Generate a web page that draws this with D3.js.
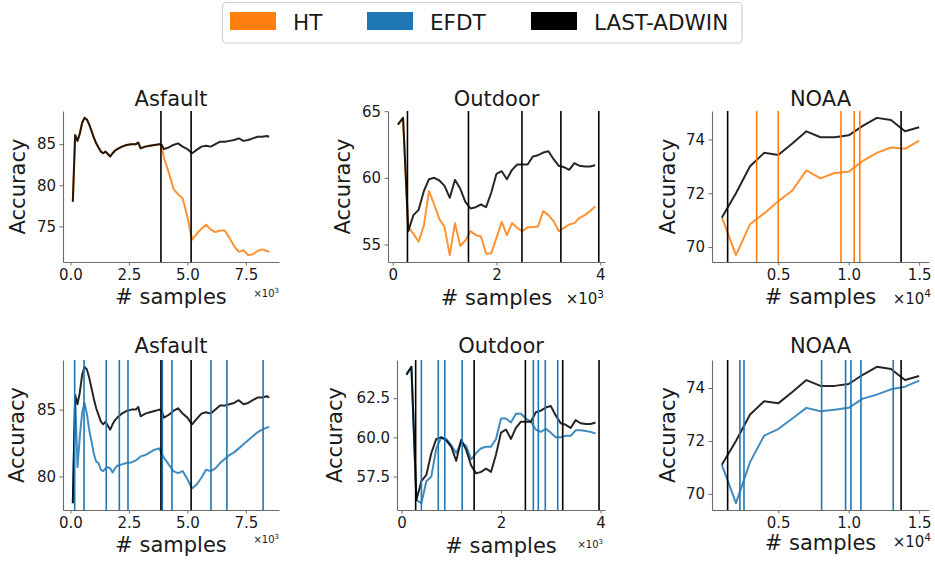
<!DOCTYPE html>
<html>
<head>
<meta charset="utf-8">
<script src="https://cdn.jsdelivr.net/npm/d3@7"></script>
<style>
  body { margin: 0; background: #fff; }
  svg { display: block; font-family: "DejaVu Sans", sans-serif; }
</style>
</head>
<body>
<svg id="chart" width="935" height="563"></svg>
<script>
// ---- legend ----
const seriesNames = ["HT", "EFDT", "LAST-ADWIN"];
const seriesColors = ["#ff7f0e", "#1f77b4", "#000000"];

// ---- Asfault ----
const asfaultSamples = [100, 200, 300, 400, 500, 600, 700, 800, 900, 1000,
  1100, 1200, 1300, 1400, 1500, 1600, 1700, 1800, 1900, 2000,
  2200, 2400, 2600, 2800, 2900, 3000,
  3200, 3400, 3600, 3800, 3900,
  4000, 4200, 4400, 4600, 4800, 5000, 5200, 5400, 5600, 5800, 6000, 6200,
  6400, 6600, 6800, 7000, 7200, 7400, 7600, 7800, 8000, 8200, 8400, 8500];
const asfaultADWIN = [78.0, 86.1, 85.4, 86.3, 87.6, 88.2, 88.0, 87.4, 86.6, 85.8,
  85.1, 84.6, 84.1, 83.9, 84.1, 83.8, 83.5, 83.9, 84.2, 84.4,
  84.7, 84.9, 85.0, 85.0, 85.2, 84.5,
  84.7, 84.8, 84.9, 85.0, 84.9,
  84.4, 84.6, 84.9, 85.1, 84.7, 84.4, 83.9, 84.3, 84.7, 84.8, 84.7, 85.0,
  85.3, 85.3, 85.4, 85.5, 85.7, 85.4, 85.5, 85.7, 85.9, 85.9, 86.0, 85.9];
const asfaultHT = [78.0, 86.1, 85.4, 86.3, 87.6, 88.2, 88.0, 87.4, 86.6, 85.8,
  85.1, 84.6, 84.1, 83.9, 84.1, 83.8, 83.5, 83.9, 84.2, 84.4,
  84.7, 84.9, 85.0, 85.0, 85.2, 84.5,
  84.7, 84.8, 84.9, 85.0, 84.9,
  83.3, 81.6, 79.6, 78.9, 78.4, 76.2, 73.4, 74.1, 74.7, 75.2, 74.6, 74.3,
  74.5, 74.5, 73.6, 72.6, 71.9, 72.1, 71.5, 71.6, 72.0, 72.2, 72.0, 71.9];
const asfaultEFDT = [78.0, 85.9, 80.7, 83.0, 84.8, 85.5, 84.7, 83.5, 82.6, 81.7,
  81.1, 81.0, 80.5, 80.4, 80.6, 80.7, 80.6, 80.3, 80.6, 80.8,
  80.9, 81.0, 81.05, 81.2, 81.35, 81.5,
  81.6, 81.8, 82.0, 82.1, 81.7,
  81.4, 80.9, 80.4, 80.25, 80.4, 79.8, 79.1, 79.4, 79.9, 80.5, 80.4, 80.6,
  81.0, 81.3, 81.6, 81.8, 82.1, 82.4, 82.7, 83.0, 83.3, 83.5, 83.65, 83.7];
const asfaultAdwinDrifts = [3870, 5160];
const asfaultHTDrifts = [];
const asfaultEFDTDrifts = [180, 580, 1530, 2090, 2460, 3930, 4340, 6010, 6690, 8240];

// ---- Outdoor ----
const outdoorSamples = [100, 200, 300, 400, 500, 600, 700, 800, 900, 1000,
  1100, 1200, 1300, 1400, 1500, 1600, 1700, 1800, 1900, 2000,
  2100, 2200, 2300, 2400, 2500, 2600, 2700, 2800, 2900, 3000,
  3100, 3200, 3300, 3400, 3500, 3600, 3700, 3800, 3900];
const outdoorADWIN = [64.0, 64.5, 56.0, 57.2, 57.6, 59.0, 59.9, 60.0, 59.8, 59.4,
  58.5, 59.85, 59.2, 58.2, 57.7, 57.8, 58.0, 57.8, 58.9, 60.3,
  60.5, 59.9, 60.6, 61.0, 61.0, 61.0, 61.6, 61.7, 61.9, 62.0,
  61.4, 60.9, 60.8, 60.6, 61.1, 60.9, 60.85, 60.85, 60.95];
const outdoorHT = [64.0, 64.5, 56.3, 55.8, 55.2, 56.4, 59.0, 58.0, 56.9, 56.3,
  54.2, 56.6, 54.9, 55.3, 56.0, 55.7, 55.6, 54.3, 54.35, 55.5,
  56.7, 55.7, 56.6, 56.25, 56.0, 56.3, 56.3, 56.35, 57.5, 57.2,
  56.75, 56.0, 56.25, 56.5, 56.6, 57.0, 57.2, 57.5, 57.85];
const outdoorEFDT = [64.0, 64.5, 56.0, 55.8, 57.2, 57.5, 59.3, 60.0, 59.9, 59.5,
  59.0, 59.7, 59.45, 58.6, 59.0, 59.3, 59.4, 59.4, 59.9, 61.2,
  61.2, 60.95, 61.5, 61.5, 61.2, 61.0, 60.5, 60.35, 60.55, 60.3,
  60.0, 60.0, 60.1, 60.1, 60.45, 60.45, 60.4, 60.35, 60.25];
const outdoorAdwinDrifts = [285, 1460, 2490, 3240, 3970];
const outdoorHTDrifts = [];
const outdoorEFDTDrifts = [400, 740, 870, 1220, 2650, 2750, 2890, 3140];

// ---- NOAA ----
const noaaSamples = [1000, 2000, 3000, 4000, 5000, 6000, 7000, 8000, 9000, 10000,
  11000, 12000, 13000, 14000, 15000];
const noaaADWIN = [71.1, 72.0, 73.0, 73.5, 73.42, 73.85, 74.3, 74.08, 74.08, 74.15,
  74.5, 74.8, 74.72, 74.3, 74.45];
const noaaHT = [71.1, 69.7, 70.85, 71.25, 71.7, 72.1, 72.85, 72.55, 72.75, 72.8,
  73.2, 73.5, 73.7, 73.65, 73.95];
const noaaEFDT = [71.1, 69.65, 71.2, 72.2, 72.45, 72.85, 73.25, 73.12, 73.18, 73.25,
  73.6, 73.75, 73.95, 74.05, 74.28];
const noaaAdwinDrifts = [1410, 13720];
const noaaHTDrifts = [3470, 5000, 9450, 10390, 10790];
const noaaEFDTDrifts = [2280, 2570, 8080, 9780, 10160, 10870, 13160];

// ---- tick labels ----
const asfaultXTicks = [0, 2500, 5000, 7500];
const asfaultXTickLabels = ["0.0", "2.5", "5.0", "7.5"];
const outdoorXTicks = [0, 2000, 4000];
const outdoorXTickLabels = ["0", "2", "4"];
const noaaXTicks = [5000, 10000, 15000];
const noaaXTickLabels = ["0.5", "1.0", "1.5"];
const asfaultHTYTicks = [75, 80, 85];
const asfaultEFDTYTicks = [80, 85];
const outdoorHTYTicks = [55, 60, 65];
const outdoorEFDTYTicks = [57.5, 60.0, 62.5];
const outdoorEFDTYTickLabels = ["57.5", "60.0", "62.5"];
const noaaYTicks = [70, 72, 74];

// ---- panel layout ----
const HT = 0, EFDT = 1, ADWIN = 2;
const panels = [
  { title: "Asfault", samples: asfaultSamples, base: HT, baseValues: asfaultHT, adwinValues: asfaultADWIN,
    baseDrifts: asfaultHTDrifts, adwinDrifts: asfaultAdwinDrifts,
    xTicks: asfaultXTicks, xLabels: asfaultXTickLabels, yTicks: asfaultHTYTicks, yLabels: null, exp: "3",
    box: { left: 63, right: 279, top: 111, bottom: 262 },
    titleY: 105.5, xlabelY: 303.5, ylabelX: 24.5, offSize: 10, offY: 297, offX: 279 },
  { title: "Outdoor", samples: outdoorSamples, base: HT, baseValues: outdoorHT, adwinValues: outdoorADWIN,
    baseDrifts: outdoorHTDrifts, adwinDrifts: outdoorAdwinDrifts,
    xTicks: outdoorXTicks, xLabels: outdoorXTickLabels, yTicks: outdoorHTYTicks, yLabels: null, exp: "3",
    box: { left: 388, right: 605, top: 111, bottom: 262 },
    titleY: 105.5, xlabelY: 305, ylabelX: 350, offSize: 15, offY: 304, offX: 604 },
  { title: "NOAA", samples: noaaSamples, base: HT, baseValues: noaaHT, adwinValues: noaaADWIN,
    baseDrifts: noaaHTDrifts, adwinDrifts: noaaAdwinDrifts,
    xTicks: noaaXTicks, xLabels: noaaXTickLabels, yTicks: noaaYTicks, yLabels: null, exp: "4",
    box: { left: 712, right: 929, top: 111, bottom: 262 },
    titleY: 106, xlabelY: 303.5, ylabelX: 675, offSize: 15, offY: 303.5, offX: 931 },
  { title: "Asfault", samples: asfaultSamples, base: EFDT, baseValues: asfaultEFDT, adwinValues: asfaultADWIN,
    baseDrifts: asfaultEFDTDrifts, adwinDrifts: asfaultAdwinDrifts,
    xTicks: asfaultXTicks, xLabels: asfaultXTickLabels, yTicks: asfaultEFDTYTicks, yLabels: null, exp: "3",
    box: { left: 63, right: 279, top: 360, bottom: 510 },
    titleY: 353, xlabelY: 552, ylabelX: 23.6, offSize: 10, offY: 543, offX: 279 },
  { title: "Outdoor", samples: outdoorSamples, base: EFDT, baseValues: outdoorEFDT, adwinValues: outdoorADWIN,
    baseDrifts: outdoorEFDTDrifts, adwinDrifts: outdoorAdwinDrifts,
    xTicks: outdoorXTicks, xLabels: outdoorXTickLabels, yTicks: outdoorEFDTYTicks, yLabels: outdoorEFDTYTickLabels, exp: "3",
    box: { left: 397, right: 605, top: 360, bottom: 510 },
    titleY: 353, xlabelY: 553, ylabelX: 342, offSize: 10, offY: 548, offX: 603 },
  { title: "NOAA", samples: noaaSamples, base: EFDT, baseValues: noaaEFDT, adwinValues: noaaADWIN,
    baseDrifts: noaaEFDTDrifts, adwinDrifts: noaaAdwinDrifts,
    xTicks: noaaXTicks, xLabels: noaaXTickLabels, yTicks: noaaYTicks, yLabels: null, exp: "4",
    box: { left: 712, right: 929, top: 360, bottom: 510 },
    titleY: 353, xlabelY: 550, ylabelX: 675, offSize: 15, offY: 547, offX: 931 }
];

const TEXT = "#1a1a1a";
const SPINE = "#6b6b6b";
const svg = d3.select("#chart");

panels.forEach(p => {
  const b = p.box;
  const [x0, x1] = d3.extent(p.samples);
  const xm = (x1 - x0) * 0.05;
  const x = d3.scaleLinear().domain([x0 - xm, x1 + xm]).range([b.left, b.right]);
  const [y0, y1] = d3.extent(p.baseValues.concat(p.adwinValues));
  const ym = (y1 - y0) * 0.05;
  const y = d3.scaleLinear().domain([y0 - ym, y1 + ym]).range([b.bottom, b.top]);

  const g = svg.append("g");
  const line = d3.line().x((d, i) => x(p.samples[i])).y(d => y(d));

  // accuracy curves
  g.append("path").datum(p.baseValues).attr("d", line)
    .attr("fill", "none").attr("stroke", seriesColors[p.base])
    .attr("stroke-width", 2).attr("stroke-opacity", 0.85).attr("stroke-linejoin", "round");
  g.append("path").datum(p.adwinValues).attr("d", line)
    .attr("fill", "none").attr("stroke", seriesColors[ADWIN])
    .attr("stroke-width", 2).attr("stroke-opacity", 0.85).attr("stroke-linejoin", "round");

  // drift detections
  const drawDrifts = (arr, color) => g.selectAll(null).data(arr).enter().append("line")
    .attr("x1", d => x(d)).attr("x2", d => x(d))
    .attr("y1", b.top).attr("y2", b.bottom)
    .attr("stroke", color).attr("stroke-width", 1.6);
  drawDrifts(p.baseDrifts, seriesColors[p.base]);
  drawDrifts(p.adwinDrifts, seriesColors[ADWIN]);

  // axes
  const xAxis = d3.axisBottom(x).tickValues(p.xTicks)
    .tickFormat((d, i) => p.xLabels[i]).tickSizeOuter(0).tickSizeInner(3.5).tickPadding(3.5);
  const yAxis = d3.axisLeft(y).tickValues(p.yTicks)
    .tickFormat((d, i) => p.yLabels ? p.yLabels[i] : String(d)).tickSizeOuter(0).tickSizeInner(3.5).tickPadding(3.5);
  const gx = g.append("g").attr("transform", `translate(0,${b.bottom})`).call(xAxis);
  const gy = g.append("g").attr("transform", `translate(${b.left},0)`).call(yAxis);
  [gx, gy].forEach(ax => {
    ax.select(".domain").attr("stroke", SPINE).attr("stroke-width", 1.1);
    ax.selectAll(".tick line").attr("stroke", SPINE).attr("stroke-width", 1);
    ax.selectAll(".tick text").attr("fill", TEXT).style("font-size", "15px")
      .style("font-family", "DejaVu Sans, sans-serif");
  });

  // title and axis labels
  g.append("text").attr("x", (b.left + b.right) / 2).attr("y", p.titleY)
    .attr("text-anchor", "middle").attr("fill", TEXT).style("font-size", "21px").text(p.title);
  g.append("text").attr("x", (b.left + b.right) / 2).attr("y", p.xlabelY)
    .attr("text-anchor", "middle").attr("fill", TEXT).style("font-size", "21px").text("# samples");
  g.append("text").attr("transform", `translate(${p.ylabelX},${(b.top + b.bottom) / 2}) rotate(-90)`)
    .attr("text-anchor", "middle").attr("fill", TEXT).style("font-size", "21px").text("Accuracy");

  // scale multiplier
  const off = g.append("text").attr("x", p.offX).attr("y", p.offY)
    .attr("text-anchor", "end").attr("fill", TEXT).style("font-size", p.offSize + "px");
  off.append("tspan").text("\u00d710");
  off.append("tspan").attr("dy", -0.42 * p.offSize).style("font-size", (p.offSize * 0.7) + "px").text(p.exp);
});

// legend
const lg = svg.append("g");
lg.append("rect").attr("x", 222.5).attr("y", 2.5).attr("width", 519.5).attr("height", 40.5)
  .attr("rx", 4).attr("fill", "#fff").attr("stroke", "#d0d0d0").attr("stroke-width", 1.2);
const legendX = [230, 367, 531];
seriesNames.forEach((name, i) => {
  lg.append("rect").attr("x", legendX[i]).attr("y", 12).attr("width", 46).attr("height", 18)
    .attr("fill", seriesColors[i]);
  lg.append("text").attr("x", legendX[i] + 63).attr("y", 29.5).attr("fill", TEXT)
    .style("font-size", "21.5px").text(name);
});
</script>
</body>
</html>
